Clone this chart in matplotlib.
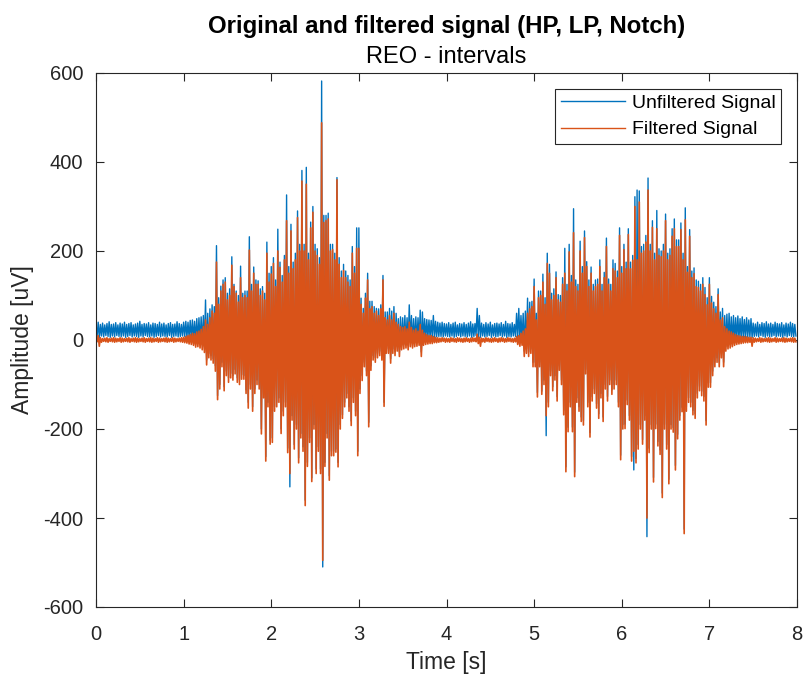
import numpy as np
import matplotlib
matplotlib.use("Agg")
import matplotlib.pyplot as plt

# ---- data: per-bin (0.025 s) extreme values, in uV ----
bin_width = 0.025  # seconds per bin

raw_hi = [
    36,40,35,38,34,37,41,35,36,39,34,38,36,40,35,37,39,34,36,38,42,35,37,36,39,34,38,37,35,40,36,38,34,37,39,35,36,41,37,35,
    40,42,40,44,45,42,48,50,52,55,90,60,70,79,75,212,95,121,135,140,105,115,187,125,110,100,166,105,110,110,232,125,164,135,133,115,120,105,220,150,
    165,185,135,249,175,145,190,326,165,260,175,195,290,215,381,215,388,195,265,300,215,205,185,582,280,280,285,215,215,195,365,185,155,170,155,145,135,210,165,252,
    252,94,71,105,150,87,87,75,71,70,79,145,63,63,71,65,75,60,48,52,50,55,50,79,55,48,52,50,67,63,48,46,45,44,55,42,40,38,40,37,
    36,39,35,38,40,34,37,36,39,35,38,41,36,37,71,55,38,35,39,36,40,34,37,38,36,39,35,42,37,36,39,35,60,71,55,60,65,94,85,87,
    137,60,110,110,148,95,195,170,105,115,153,102,100,140,206,125,215,145,295,135,125,222,165,245,176,135,164,125,135,137,180,125,152,229,137,125,180,172,155,252,
    165,215,175,250,175,190,322,337,335,210,215,235,364,215,268,195,291,205,200,215,283,195,205,250,272,225,225,263,195,297,165,248,155,162,135,132,125,140,118,95,
    140,98,85,75,115,63,71,55,58,60,52,55,50,54,48,52,46,50,45,48,38,36,40,35,39,37,41,36,38,35,40,37,36,39,34,38,36,40,37,35,
]
raw_lo = [
    8,4,9,7,10,8,6,9,7,10,8,7,9,6,8,10,7,9,8,6,9,7,10,8,7,9,6,8,10,7,9,8,7,10,6,8,9,7,8,9,
    8,6,5,3,2,0,-3,-5,-8,-15,-45,-30,-35,-42,-58,-125,-100,-50,-105,-70,-85,-75,-80,-66,-85,-90,-78,-80,-112,-140,-100,-150,-110,-90,-100,-200,-120,-262,-140,-225,
    -220,-150,-140,-130,-200,-160,-140,-243,-330,-170,-235,-190,-265,-210,-240,-360,-275,-220,-310,-190,-290,-240,-290,-510,-275,-210,-305,-250,-250,-245,-275,-190,-168,-140,-120,-150,-182,-130,-160,-250,
    -110,-80,-50,-70,-185,-58,-35,-40,-30,-25,-35,-140,-20,-20,-42,-20,-25,-15,-27,-12,-10,-8,-12,-5,-8,-5,-3,-2,-27,0,2,4,5,6,6,7,8,8,7,9,
    8,7,9,6,8,10,7,9,8,7,9,6,8,10,5,6,9,7,8,10,6,9,7,8,10,7,9,6,8,7,9,8,4,0,-2,-25,-20,-27,-20,-50,
    -50,-118,-50,-115,-90,-215,-140,-70,-105,-80,-127,-58,-90,-158,-285,-196,-140,-196,-297,-130,-150,-173,-181,-66,-140,-208,-127,-110,-143,-166,-120,-173,-100,-127,-90,-112,-100,-90,-140,-259,
    -190,-189,-135,-170,-262,-292,-266,-235,-190,-224,-170,-442,-243,-190,-309,-189,-228,-247,-344,-190,-235,-313,-190,-197,-282,-212,-170,-151,-425,-150,-130,-140,-158,-166,-120,-104,-115,-127,-181,-96,
    -96,-70,-50,-40,-50,-30,-50,-15,-10,-8,-5,-2,0,2,3,4,5,6,6,5,8,9,7,10,8,6,9,7,8,10,7,9,8,6,9,7,10,8,7,9,
]
filt_hi = [
    4,10,5,3,4,5,3,4,5,4,3,5,4,3,4,5,3,4,5,4,3,4,5,3,4,5,4,3,5,4,3,4,5,4,3,5,4,3,4,5,
    6,8,10,12,15,14,18,20,24,30,45,35,50,65,60,175,80,110,125,130,90,100,168,120,105,85,140,95,100,95,202,110,150,125,125,100,110,90,195,130,
    148,172,120,200,163,130,180,268,150,245,160,180,275,200,357,200,350,180,252,287,200,190,170,488,264,268,272,200,203,180,360,170,140,156,140,130,120,195,150,206,
    206,80,60,94,135,70,75,60,65,55,70,135,50,45,55,45,60,40,35,30,28,30,25,40,28,22,25,20,35,22,15,12,10,10,8,6,5,4,5,4,
    4,3,5,4,3,5,4,3,4,5,3,4,5,4,13,6,4,3,5,4,3,4,5,3,4,5,4,3,5,4,3,4,8,10,15,20,25,60,70,75,
    120,45,95,100,130,80,172,150,90,100,140,90,85,125,150,110,198,130,241,120,110,200,150,230,165,120,150,110,120,125,165,110,140,210,125,110,160,155,140,235,
    150,203,160,237,160,179,300,180,310,195,200,220,337,200,253,180,250,190,187,200,268,180,190,233,250,210,210,248,180,270,152,233,140,149,120,118,110,125,102,79,
    125,83,70,60,102,45,50,30,25,20,18,15,12,10,9,8,8,7,6,6,5,4,3,5,4,3,4,5,4,3,5,4,3,4,5,4,3,4,5,4,
]
filt_lo = [
    -4,-14,-5,-3,-4,-5,-3,-4,-5,-4,-3,-5,-4,-3,-4,-5,-3,-4,-5,-4,-3,-4,-5,-3,-4,-5,-4,-3,-5,-4,-3,-4,-5,-4,-3,-5,-4,-3,-4,-5,
    -6,-7,-9,-10,-12,-16,-15,-18,-22,-28,-56,-40,-45,-52,-70,-134,-110,-60,-114,-80,-95,-85,-90,-76,-95,-100,-88,-88,-120,-153,-110,-160,-120,-100,-110,-211,-130,-272,-150,-234,
    -230,-160,-150,-140,-210,-170,-150,-253,-300,-180,-245,-200,-276,-220,-250,-372,-284,-230,-318,-200,-300,-250,-300,-495,-284,-220,-315,-260,-260,-252,-285,-200,-176,-150,-130,-160,-192,-140,-170,-260,
    -120,-91,-60,-80,-195,-68,-45,-50,-40,-35,-45,-149,-30,-30,-52,-30,-35,-25,-37,-22,-20,-18,-22,-15,-18,-15,-14,-12,-37,-12,-10,-9,-8,-8,-6,-6,-5,-4,-3,-5,
    -4,-5,-3,-4,-5,-3,-4,-5,-4,-3,-5,-4,-3,-4,-8,-14,-4,-5,-3,-4,-5,-4,-3,-5,-4,-3,-5,-4,-3,-4,-5,-4,-10,-14,-12,-37,-30,-37,-30,-60,
    -60,-128,-60,-122,-100,-170,-150,-80,-114,-90,-137,-68,-100,-168,-296,-206,-150,-206,-307,-140,-160,-183,-191,-76,-150,-218,-137,-120,-153,-176,-130,-183,-110,-137,-100,-122,-110,-100,-150,-269,
    -200,-199,-145,-180,-272,-250,-276,-245,-200,-234,-180,-400,-253,-200,-319,-199,-238,-257,-354,-200,-245,-323,-200,-207,-292,-222,-180,-161,-435,-160,-140,-150,-168,-176,-130,-114,-125,-137,-191,-106,
    -106,-80,-60,-50,-60,-40,-60,-25,-20,-18,-15,-12,-10,-9,-8,-7,-6,-6,-5,-14,-5,-4,-3,-5,-4,-3,-4,-5,-4,-3,-5,-4,-3,-4,-5,-4,-3,-4,-5,-4,
]

series_labels = ["Unfiltered Signal", "Filtered Signal"]
x_ticks = [0, 1, 2, 3, 4, 5, 6, 7, 8]
y_ticks = [-600, -400, -200, 0, 200, 400, 600]

assert len(raw_hi) == len(raw_lo) == len(filt_hi) == len(filt_lo)


def trace(hi, lo):
    hi = np.asarray(hi, float)
    lo = np.asarray(lo, float)
    t = np.arange(len(hi)) * bin_width
    x = np.column_stack([t, t + bin_width / 2]).ravel()
    y = np.column_stack([hi, lo]).ravel()
    return x, y


plt.rcParams["font.family"] = ["Liberation Sans", "DejaVu Sans"]
plt.rcParams["axes.unicode_minus"] = False
AX_COL = (0.15, 0.15, 0.15)
BLUE = "#0072BD"
ORANGE = "#D95319"

fig = plt.figure(figsize=(8.06, 6.74), dpi=100)
ax = fig.add_axes([96 / 806, 1 - 607 / 674, (797 - 96) / 806, (607 - 73) / 674])

xr, yr = trace(raw_hi, raw_lo)
xf, yf = trace(filt_hi, filt_lo)
ax.plot(xr, yr, color=BLUE, lw=1.0, label=series_labels[0])
ax.plot(xf, yf, color=ORANGE, lw=1.2, label=series_labels[1])

ax.set_xlim(0, 8)
ax.set_ylim(-600, 600)
ax.set_xticks(x_ticks)
ax.set_yticks(y_ticks)
ax.tick_params(direction="in", length=6, width=0.8, colors=AX_COL,
               labelsize=14.5, top=True, right=True, labelcolor=AX_COL)
ax.tick_params(axis="x", pad=13)
ax.tick_params(axis="y", pad=9)
for s in ax.spines.values():
    s.set_color(AX_COL)
    s.set_linewidth(0.8)

ax.set_xlabel("Time [s]", fontsize=16.5, color=AX_COL, labelpad=5)
ax.set_ylabel("Amplitude [uV]", fontsize=16.5, color=AX_COL)
ax.yaxis.set_label_coords((34 - 96) / 701, 0.5)

fig.text(0.5 * (96 + 797) / 806, 1 - 27 / 674, "Original and filtered signal (HP, LP, Notch)",
         ha="center", va="center", fontsize=17.3, fontweight="bold", color="black")
fig.text(0.5 * (96 + 797) / 806, 1 - 57 / 674, "REO - intervals",
         ha="center", va="center", fontsize=17, color="black")

leg = ax.legend(loc="upper right", fontsize=14, frameon=True, fancybox=False,
                framealpha=1, edgecolor=AX_COL, borderaxespad=0.8,
                handlelength=3.3, handletextpad=0.35, labelspacing=0.45,
                borderpad=0.3)
leg.get_frame().set_linewidth(0.8)
for line in leg.get_lines():
    line.set_linewidth(1.0)

fig.savefig("out.png", dpi=100)
